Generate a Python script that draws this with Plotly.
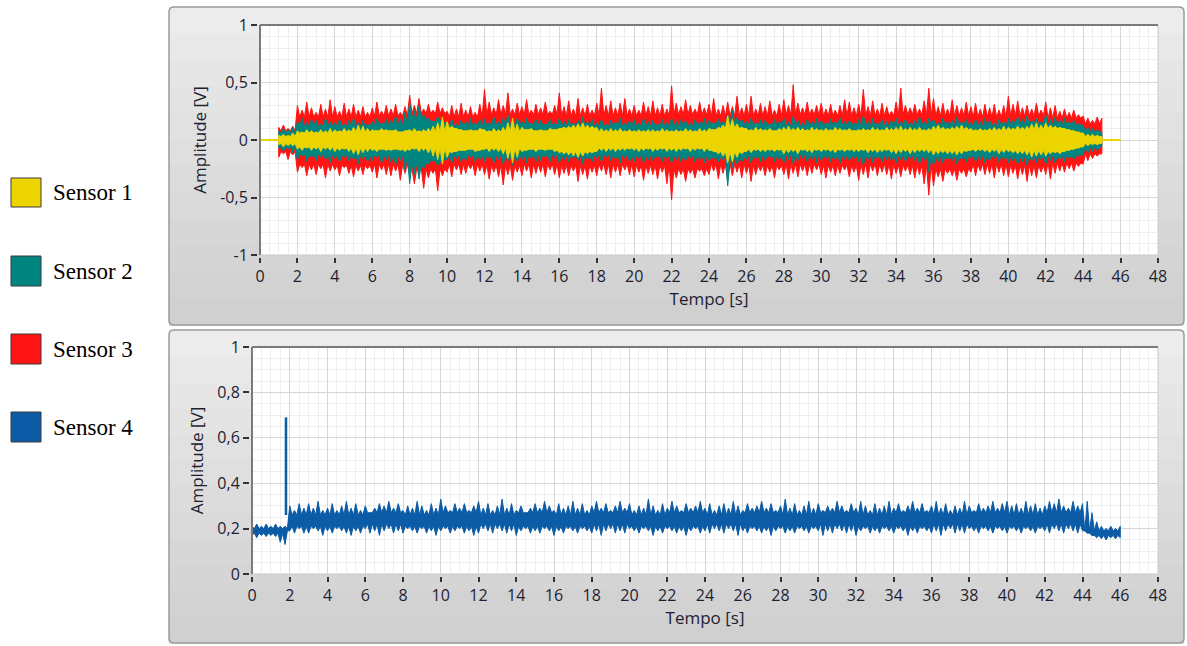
import plotly.graph_objects as go

# ---------------- data ----------------
# peak envelope samples every 0.25 s; top chart from t = 1.0 s to 45.0 s
T_START_TOP = 1.0
T_STEP = 0.25

S3_HI = [0.11, 0.13, 0.10, 0.12, 0.30, 0.26, 0.33, 0.28, 0.24, 0.31, 0.27, 0.35,
         0.29, 0.25, 0.32, 0.27, 0.31, 0.26, 0.29, 0.24, 0.28, 0.33, 0.25, 0.30,
         0.27, 0.31, 0.24, 0.29, 0.39, 0.30, 0.36, 0.27, 0.31, 0.26, 0.33, 0.28,
         0.25, 0.30, 0.27, 0.32, 0.26, 0.29, 0.24, 0.31, 0.44, 0.33, 0.28, 0.35,
         0.30, 0.41, 0.27, 0.32, 0.29, 0.35, 0.26, 0.31, 0.28, 0.33, 0.25, 0.30,
         0.41, 0.29, 0.34, 0.27, 0.36, 0.28, 0.31, 0.26, 0.32, 0.45, 0.30, 0.34,
         0.28, 0.32, 0.36, 0.27, 0.30, 0.26, 0.33, 0.29, 0.34, 0.28, 0.31, 0.27,
         0.47, 0.32, 0.29, 0.35, 0.30, 0.27, 0.33, 0.28, 0.31, 0.36, 0.27, 0.30,
         0.33, 0.29, 0.38, 0.28, 0.31, 0.38, 0.27, 0.32, 0.29, 0.34, 0.26, 0.31,
         0.35, 0.30, 0.48, 0.32, 0.28, 0.33, 0.27, 0.30, 0.32, 0.27, 0.31, 0.26,
         0.30, 0.35, 0.33, 0.28, 0.31, 0.44, 0.29, 0.34, 0.27, 0.32, 0.29, 0.25,
         0.33, 0.45, 0.30, 0.28, 0.31, 0.27, 0.34, 0.45, 0.36, 0.29, 0.32, 0.27,
         0.35, 0.30, 0.28, 0.33, 0.29, 0.32, 0.27, 0.31, 0.28, 0.31, 0.26, 0.30,
         0.38, 0.31, 0.34, 0.28, 0.30, 0.27, 0.32, 0.26, 0.33, 0.28, 0.30, 0.25,
         0.27, 0.24, 0.26, 0.22, 0.21, 0.19, 0.17, 0.20, 0.19]
S3_LO = [-0.15, -0.12, -0.17, -0.13, -0.28, -0.24, -0.31, -0.26, -0.30, -0.25, -0.33, -0.27,
         -0.26, -0.31, -0.24, -0.29, -0.32, -0.27, -0.30, -0.25, -0.28, -0.33, -0.26, -0.30,
         -0.31, -0.27, -0.35, -0.29, -0.30, -0.38, -0.28, -0.42, -0.33, -0.29, -0.44, -0.31,
         -0.28, -0.32, -0.26, -0.30, -0.29, -0.25, -0.31, -0.27, -0.30, -0.34, -0.28, -0.32,
         -0.39, -0.30, -0.35, -0.28, -0.31, -0.27, -0.33, -0.29, -0.28, -0.32, -0.26, -0.30,
         -0.33, -0.29, -0.31, -0.27, -0.36, -0.30, -0.34, -0.28, -0.31, -0.27, -0.30, -0.33,
         -0.28, -0.31, -0.26, -0.30, -0.32, -0.28, -0.35, -0.29, -0.30, -0.34, -0.28, -0.38,
         -0.52, -0.33, -0.30, -0.36, -0.29, -0.33, -0.27, -0.31, -0.30, -0.27, -0.34, -0.29,
         -0.35, -0.31, -0.28, -0.33, -0.29, -0.36, -0.30, -0.27, -0.31, -0.28, -0.33, -0.26,
         -0.30, -0.34, -0.29, -0.32, -0.27, -0.31, -0.29, -0.26, -0.30, -0.33, -0.28, -0.31,
         -0.29, -0.26, -0.32, -0.28, -0.35, -0.30, -0.33, -0.27, -0.31, -0.28, -0.30, -0.34,
         -0.29, -0.32, -0.27, -0.30, -0.33, -0.30, -0.38, -0.48, -0.40, -0.32, -0.36, -0.29,
         -0.31, -0.35, -0.29, -0.32, -0.28, -0.31, -0.27, -0.30, -0.29, -0.33, -0.28, -0.31,
         -0.32, -0.29, -0.34, -0.30, -0.36, -0.31, -0.33, -0.28, -0.30, -0.34, -0.29, -0.27,
         -0.28, -0.25, -0.27, -0.23, -0.21, -0.18, -0.16, -0.14, -0.12]

S2_HI = [0.08, 0.10, 0.09, 0.11, 0.16, 0.19, 0.15, 0.18, 0.17, 0.14, 0.19, 0.16,
         0.15, 0.18, 0.14, 0.17, 0.19, 0.15, 0.17, 0.14, 0.16, 0.19, 0.15, 0.18,
         0.17, 0.21, 0.18, 0.24, 0.33, 0.26, 0.30, 0.22, 0.19, 0.16, 0.20, 0.17,
         0.15, 0.18, 0.14, 0.17, 0.16, 0.19, 0.15, 0.18, 0.18, 0.15, 0.20, 0.16,
         0.19, 0.22, 0.17, 0.19, 0.16, 0.19, 0.15, 0.18, 0.17, 0.14, 0.18, 0.15,
         0.19, 0.16, 0.18, 0.15, 0.17, 0.20, 0.16, 0.18, 0.15, 0.18, 0.14, 0.17,
         0.16, 0.19, 0.15, 0.17, 0.18, 0.15, 0.19, 0.16, 0.17, 0.14, 0.18, 0.15,
         0.19, 0.16, 0.18, 0.17, 0.15, 0.18, 0.16, 0.19, 0.17, 0.15, 0.18, 0.16,
         0.22, 0.26, 0.20, 0.18, 0.16, 0.19, 0.15, 0.18, 0.17, 0.14, 0.18, 0.16,
         0.19, 0.16, 0.21, 0.17, 0.15, 0.18, 0.16, 0.19, 0.17, 0.15, 0.18, 0.16,
         0.19, 0.16, 0.17, 0.15, 0.18, 0.21, 0.16, 0.19, 0.15, 0.18, 0.16, 0.17,
         0.19, 0.16, 0.18, 0.15, 0.17, 0.20, 0.16, 0.19, 0.18, 0.15, 0.19, 0.16,
         0.17, 0.20, 0.16, 0.18, 0.15, 0.18, 0.16, 0.19, 0.17, 0.15, 0.18, 0.16,
         0.19, 0.17, 0.20, 0.18, 0.21, 0.17, 0.19, 0.16, 0.22, 0.18, 0.20, 0.17,
         0.19, 0.16, 0.17, 0.14, 0.13, 0.11, 0.10, 0.09, 0.07]
S2_LO = [-0.07, -0.10, -0.08, -0.11, -0.17, -0.14, -0.19, -0.15, -0.18, -0.15, -0.17, -0.20,
         -0.16, -0.19, -0.15, -0.18, -0.17, -0.21, -0.16, -0.19, -0.18, -0.15, -0.20, -0.17,
         -0.19, -0.22, -0.18, -0.26, -0.38, -0.30, -0.34, -0.25, -0.21, -0.18, -0.22, -0.19,
         -0.17, -0.20, -0.16, -0.19, -0.18, -0.15, -0.19, -0.17, -0.19, -0.16, -0.20, -0.17,
         -0.21, -0.18, -0.22, -0.19, -0.17, -0.20, -0.16, -0.19, -0.18, -0.15, -0.19, -0.16,
         -0.20, -0.17, -0.19, -0.16, -0.18, -0.21, -0.17, -0.19, -0.16, -0.19, -0.15, -0.18,
         -0.17, -0.20, -0.16, -0.19, -0.19, -0.16, -0.20, -0.17, -0.18, -0.15, -0.19, -0.16,
         -0.20, -0.17, -0.19, -0.18, -0.16, -0.19, -0.17, -0.20, -0.18, -0.16, -0.19, -0.17,
         -0.40, -0.24, -0.21, -0.19, -0.17, -0.20, -0.16, -0.19, -0.18, -0.15, -0.19, -0.17,
         -0.20, -0.17, -0.21, -0.18, -0.16, -0.19, -0.17, -0.20, -0.18, -0.16, -0.19, -0.17,
         -0.20, -0.17, -0.18, -0.16, -0.19, -0.22, -0.17, -0.20, -0.16, -0.19, -0.17, -0.18,
         -0.20, -0.17, -0.19, -0.16, -0.18, -0.21, -0.17, -0.28, -0.22, -0.19, -0.20, -0.17,
         -0.18, -0.21, -0.17, -0.19, -0.16, -0.19, -0.17, -0.20, -0.18, -0.16, -0.19, -0.17,
         -0.20, -0.18, -0.21, -0.19, -0.22, -0.18, -0.20, -0.17, -0.21, -0.18, -0.20, -0.17,
         -0.19, -0.16, -0.17, -0.14, -0.13, -0.11, -0.10, -0.09, -0.06]

S1_HI = [0.04, 0.05, 0.04, 0.06, 0.08, 0.07, 0.09, 0.08, 0.07, 0.09, 0.08, 0.10,
         0.09, 0.08, 0.10, 0.09, 0.11, 0.13, 0.12, 0.10, 0.09, 0.08, 0.10, 0.09,
         0.08, 0.09, 0.07, 0.08, 0.09, 0.10, 0.08, 0.09, 0.10, 0.12, 0.15, 0.20,
         0.16, 0.12, 0.10, 0.09, 0.08, 0.09, 0.08, 0.10, 0.09, 0.08, 0.10, 0.09,
         0.11, 0.15, 0.19, 0.14, 0.11, 0.09, 0.10, 0.08, 0.09, 0.08, 0.10, 0.09,
         0.10, 0.11, 0.12, 0.13, 0.14, 0.15, 0.13, 0.12, 0.11, 0.10, 0.09, 0.10,
         0.09, 0.10, 0.08, 0.09, 0.08, 0.09, 0.08, 0.09, 0.09, 0.08, 0.10, 0.09,
         0.08, 0.09, 0.08, 0.10, 0.09, 0.08, 0.10, 0.09, 0.10, 0.09, 0.11, 0.13,
         0.21, 0.18, 0.14, 0.11, 0.10, 0.09, 0.11, 0.10, 0.09, 0.10, 0.08, 0.10,
         0.11, 0.12, 0.10, 0.11, 0.10, 0.09, 0.11, 0.10, 0.09, 0.10, 0.09, 0.11,
         0.10, 0.09, 0.10, 0.08, 0.09, 0.10, 0.09, 0.11, 0.10, 0.09, 0.11, 0.10,
         0.11, 0.12, 0.10, 0.11, 0.10, 0.11, 0.09, 0.10, 0.12, 0.13, 0.11, 0.10,
         0.11, 0.12, 0.13, 0.11, 0.10, 0.09, 0.10, 0.09, 0.10, 0.11, 0.10, 0.12,
         0.11, 0.10, 0.12, 0.11, 0.12, 0.14, 0.15, 0.13, 0.15, 0.13, 0.12, 0.11,
         0.10, 0.09, 0.08, 0.07, 0.06, 0.05, 0.05, 0.04, 0.03]
S1_LO = [-0.04, -0.06, -0.05, -0.05, -0.08, -0.09, -0.07, -0.09, -0.08, -0.10, -0.08, -0.09,
         -0.10, -0.09, -0.08, -0.10, -0.12, -0.13, -0.11, -0.10, -0.09, -0.10, -0.08, -0.09,
         -0.09, -0.08, -0.09, -0.10, -0.09, -0.08, -0.10, -0.09, -0.11, -0.14, -0.17, -0.21,
         -0.15, -0.11, -0.10, -0.09, -0.09, -0.08, -0.10, -0.09, -0.08, -0.10, -0.09, -0.10,
         -0.12, -0.16, -0.20, -0.15, -0.10, -0.09, -0.08, -0.10, -0.08, -0.09, -0.08, -0.10,
         -0.11, -0.12, -0.13, -0.14, -0.15, -0.14, -0.12, -0.11, -0.10, -0.09, -0.10, -0.09,
         -0.10, -0.09, -0.09, -0.08, -0.09, -0.10, -0.09, -0.08, -0.10, -0.09, -0.08, -0.10,
         -0.09, -0.10, -0.09, -0.08, -0.10, -0.09, -0.08, -0.10, -0.09, -0.10, -0.12, -0.14,
         -0.20, -0.19, -0.15, -0.12, -0.10, -0.11, -0.09, -0.10, -0.10, -0.09, -0.10, -0.09,
         -0.12, -0.11, -0.10, -0.12, -0.09, -0.10, -0.11, -0.09, -0.10, -0.09, -0.10, -0.11,
         -0.09, -0.10, -0.09, -0.10, -0.10, -0.09, -0.11, -0.10, -0.11, -0.10, -0.09, -0.11,
         -0.12, -0.11, -0.10, -0.12, -0.11, -0.10, -0.10, -0.11, -0.13, -0.12, -0.11, -0.12,
         -0.12, -0.13, -0.12, -0.10, -0.09, -0.10, -0.09, -0.10, -0.11, -0.10, -0.12, -0.11,
         -0.10, -0.11, -0.12, -0.12, -0.13, -0.15, -0.14, -0.13, -0.14, -0.12, -0.11, -0.12,
         -0.10, -0.09, -0.08, -0.07, -0.06, -0.05, -0.04, -0.04, -0.03]

# solid "body" level between the peaks, one value per 2 s (t = 0-2, 2-4, ..., 44-46)
BODY_STEP = 2.0
S3_BODY_HI = [0.08, 0.20, 0.20, 0.21, 0.23, 0.20, 0.22, 0.22, 0.21, 0.21, 0.21, 0.22,
              0.21, 0.21, 0.22, 0.21, 0.21, 0.22, 0.21, 0.20, 0.21, 0.19, 0.14]
S3_BODY_LO = [-0.10, -0.21, -0.22, -0.21, -0.25, -0.21, -0.22, -0.21, -0.22, -0.21, -0.22, -0.25,
              -0.21, -0.22, -0.21, -0.22, -0.21, -0.22, -0.25, -0.21, -0.22, -0.20, -0.12]
S2_BODY_HI = [0.06, 0.12, 0.12, 0.13, 0.18, 0.12, 0.13, 0.13, 0.12, 0.12, 0.12, 0.12,
              0.14, 0.13, 0.12, 0.13, 0.12, 0.13, 0.13, 0.12, 0.14, 0.13, 0.07]
S2_BODY_LO = [-0.06, -0.12, -0.13, -0.13, -0.20, -0.13, -0.13, -0.12, -0.13, -0.12, -0.13, -0.13,
              -0.15, -0.13, -0.12, -0.13, -0.13, -0.13, -0.14, -0.13, -0.14, -0.13, -0.06]
S1_BODY_HI = [0.03, 0.06, 0.07, 0.08, 0.07, 0.10, 0.07, 0.09, 0.10, 0.07, 0.07, 0.07,
              0.10, 0.08, 0.08, 0.08, 0.08, 0.08, 0.09, 0.08, 0.09, 0.10, 0.03]
S1_BODY_LO = [-0.03, -0.06, -0.07, -0.08, -0.07, -0.10, -0.07, -0.09, -0.10, -0.07, -0.07, -0.07,
              -0.10, -0.08, -0.08, -0.08, -0.08, -0.08, -0.09, -0.08, -0.09, -0.10, -0.03]

# quiet (flat) part of Sensor 1 before / after the excitation
S1_QUIET_T = [0.0, 1.0, None, 45.0, 46.0]
S1_QUIET_V = [0.0, 0.0, None, 0.0, 0.0]

# bottom chart, peak envelope every 0.25 s from t = 0 to 46 s
T_START_BOTTOM = 0.0
S4_HI = [0.21, 0.22, 0.21, 0.22, 0.21, 0.22, 0.21, 0.21, 0.30, 0.28, 0.31, 0.29,
         0.31, 0.29, 0.32, 0.28, 0.29, 0.31, 0.28, 0.30, 0.32, 0.29, 0.31, 0.28,
         0.30, 0.27, 0.29, 0.31, 0.30, 0.32, 0.29, 0.31, 0.28, 0.30, 0.29, 0.32,
         0.30, 0.28, 0.31, 0.29, 0.33, 0.30, 0.28, 0.31, 0.29, 0.31, 0.28, 0.30,
         0.32, 0.29, 0.31, 0.28, 0.30, 0.33, 0.29, 0.31, 0.28, 0.30, 0.27, 0.29,
         0.31, 0.29, 0.32, 0.30, 0.28, 0.31, 0.29, 0.30, 0.32, 0.29, 0.31, 0.28,
         0.30, 0.32, 0.29, 0.31, 0.28, 0.30, 0.32, 0.29, 0.31, 0.28, 0.30, 0.29,
         0.33, 0.30, 0.28, 0.31, 0.29, 0.32, 0.30, 0.28, 0.31, 0.29, 0.30, 0.32,
         0.29, 0.31, 0.28, 0.30, 0.31, 0.29, 0.32, 0.30, 0.28, 0.31, 0.29, 0.30,
         0.32, 0.29, 0.31, 0.28, 0.30, 0.33, 0.29, 0.31, 0.28, 0.30, 0.32, 0.29,
         0.31, 0.28, 0.30, 0.29, 0.32, 0.30, 0.28, 0.31, 0.29, 0.32, 0.30, 0.28,
         0.31, 0.29, 0.30, 0.32, 0.29, 0.31, 0.28, 0.30, 0.32, 0.29, 0.31, 0.28,
         0.30, 0.32, 0.29, 0.31, 0.28, 0.30, 0.29, 0.32, 0.30, 0.28, 0.31, 0.29,
         0.30, 0.32, 0.29, 0.31, 0.32, 0.30, 0.31, 0.29, 0.32, 0.30, 0.31, 0.29,
         0.30, 0.32, 0.31, 0.33, 0.30, 0.29, 0.32, 0.30, 0.31, 0.32, 0.27, 0.23,
         0.21, 0.20, 0.21, 0.20, 0.21]
S4_LO = [0.17, 0.16, 0.17, 0.165, 0.17, 0.165, 0.14, 0.13, 0.19, 0.18, 0.20, 0.18,
         0.18, 0.20, 0.19, 0.17, 0.19, 0.18, 0.20, 0.19, 0.18, 0.17, 0.19, 0.18,
         0.20, 0.18, 0.19, 0.17, 0.19, 0.20, 0.18, 0.19, 0.18, 0.20, 0.19, 0.18,
         0.20, 0.18, 0.19, 0.17, 0.19, 0.20, 0.18, 0.19, 0.20, 0.18, 0.19, 0.17,
         0.18, 0.20, 0.19, 0.18, 0.20, 0.19, 0.18, 0.19, 0.17, 0.19, 0.20, 0.18,
         0.19, 0.18, 0.20, 0.19, 0.17, 0.19, 0.18, 0.20, 0.19, 0.18, 0.20, 0.19,
         0.18, 0.19, 0.17, 0.19, 0.20, 0.18, 0.19, 0.18, 0.20, 0.19, 0.18, 0.20,
         0.19, 0.17, 0.19, 0.18, 0.20, 0.19, 0.18, 0.19, 0.17, 0.19, 0.20, 0.18,
         0.19, 0.18, 0.20, 0.19, 0.18, 0.20, 0.19, 0.17, 0.19, 0.18, 0.20, 0.19,
         0.18, 0.19, 0.17, 0.19, 0.20, 0.18, 0.19, 0.18, 0.20, 0.19, 0.18, 0.20,
         0.19, 0.17, 0.19, 0.18, 0.20, 0.19, 0.18, 0.19, 0.17, 0.19, 0.20, 0.18,
         0.19, 0.18, 0.20, 0.19, 0.18, 0.20, 0.19, 0.17, 0.19, 0.18, 0.20, 0.19,
         0.18, 0.19, 0.17, 0.19, 0.20, 0.18, 0.19, 0.18, 0.20, 0.19, 0.18, 0.20,
         0.19, 0.18, 0.20, 0.19, 0.18, 0.20, 0.19, 0.18, 0.20, 0.19, 0.18, 0.20,
         0.19, 0.18, 0.20, 0.19, 0.18, 0.20, 0.19, 0.18, 0.19, 0.18, 0.17, 0.16,
         0.155, 0.15, 0.16, 0.155, 0.16]
S4_BODY_HI = [0.20, 0.26, 0.26, 0.27, 0.26, 0.27, 0.26, 0.27, 0.26, 0.27, 0.26, 0.27,
              0.26, 0.27, 0.26, 0.27, 0.26, 0.27, 0.26, 0.27, 0.26, 0.27, 0.19]
S4_BODY_LO = [0.18, 0.21, 0.21, 0.22, 0.21, 0.21, 0.22, 0.21, 0.21, 0.22, 0.21, 0.21,
              0.22, 0.21, 0.21, 0.22, 0.21, 0.21, 0.22, 0.21, 0.21, 0.22, 0.17]
# impact spike of sensor 4
S4_SPIKE_T = [1.8, 1.8]
S4_SPIKE_V = [0.26, 0.69]

SERIES_NAMES = ["Sensor 1", "Sensor 2", "Sensor 3", "Sensor 4"]
SERIES_COLORS = ["#ecd400", "#008580", "#ff1414", "#0b5ba6"]

X_TICKS = list(range(0, 49, 2))
Y1_TICKVALS = [-1, -0.5, 0, 0.5, 1]
Y1_TICKTEXT = ["-1", "-0,5", "0", "0,5", "1"]
Y2_TICKVALS = [0, 0.2, 0.4, 0.6, 0.8, 1]
Y2_TICKTEXT = ["0", "0,2", "0,4", "0,6", "0,8", "1"]

# ---------------- helpers ----------------
W, H = 1187, 646


def fx(x):
    return x / W


def fy(y):
    return 1 - y / H


def body_at(body, t):
    return body[min(int(t // BODY_STEP), len(body) - 1)]


def band_xy(t0, step, hi, lo, body_hi, body_lo):
    """Outline: peaks at every sample, the solid body level between peaks."""
    n = len(hi)
    ts = [t0 + i * step for i in range(n)]
    up_x, up_y, dn_x, dn_y = [], [], [], []
    for i in range(n):
        up_x.append(ts[i]); up_y.append(hi[i])
        dn_x.append(ts[i]); dn_y.append(lo[i])
        if i < n - 1:
            tm = ts[i] + step / 2
            up_x.append(tm)
            up_y.append(min(body_at(body_hi, tm), hi[i], hi[i + 1]))
            dn_x.append(tm)
            dn_y.append(max(body_at(body_lo, tm), lo[i], lo[i + 1]))
    xs = up_x + dn_x[::-1] + [up_x[0]]
    ys = up_y + dn_y[::-1] + [up_y[0]]
    return xs, ys


fig = go.Figure()


def add_band(hi, lo, bhi, blo, t0, col, name, xa, ya):
    xs, ys = band_xy(t0, T_STEP, hi, lo, bhi, blo)
    fig.add_trace(go.Scatter(x=xs, y=ys, mode="lines", name=name, fill="toself",
                             fillcolor=col, line=dict(color=col, width=1),
                             xaxis=xa, yaxis=ya, showlegend=False, hoverinfo="skip"))


# top chart (red underneath, then teal, yellow on top)
add_band(S3_HI, S3_LO, S3_BODY_HI, S3_BODY_LO, T_START_TOP, SERIES_COLORS[2], "Sensor 3", "x", "y")
add_band(S2_HI, S2_LO, S2_BODY_HI, S2_BODY_LO, T_START_TOP, SERIES_COLORS[1], "Sensor 2", "x", "y")
fig.add_trace(go.Scatter(x=S1_QUIET_T, y=S1_QUIET_V, mode="lines", name="Sensor 1",
                         line=dict(color=SERIES_COLORS[0], width=2), xaxis="x", yaxis="y",
                         showlegend=False, hoverinfo="skip"))
add_band(S1_HI, S1_LO, S1_BODY_HI, S1_BODY_LO, T_START_TOP, SERIES_COLORS[0], "Sensor 1", "x", "y")

# bottom chart
add_band(S4_HI, S4_LO, S4_BODY_HI, S4_BODY_LO, T_START_BOTTOM, SERIES_COLORS[3], "Sensor 4", "x2", "y2")
fig.add_trace(go.Scatter(x=S4_SPIKE_T, y=S4_SPIKE_V, mode="lines", name="Sensor 4",
                         line=dict(color=SERIES_COLORS[3], width=2.5), xaxis="x2", yaxis="y2",
                         showlegend=False, hoverinfo="skip"))

# ---------------- panels ----------------
shapes = []


def panel(x0, y0, x1, y1):
    n = 12
    c_top = (236, 236, 236)
    c_bot = (208, 208, 208)
    for i in range(n):
        a = i / (n - 1)
        c = tuple(int(c_top[k] + (c_bot[k] - c_top[k]) * a) for k in range(3))
        ya = y0 + (y1 - y0) * i / n
        yb = y0 + (y1 - y0) * (i + 1) / n + 0.5
        shapes.append(dict(type="rect", xref="paper", yref="paper", layer="below",
                           x0=fx(x0), x1=fx(x1), y0=fy(ya), y1=fy(yb),
                           fillcolor="rgb(%d,%d,%d)" % c, line=dict(width=0)))
    r = 5
    p = (f"M {fx(x0 + r)},{fy(y0)} L {fx(x1 - r)},{fy(y0)} "
         f"Q {fx(x1)},{fy(y0)} {fx(x1)},{fy(y0 + r)} L {fx(x1)},{fy(y1 - r)} "
         f"Q {fx(x1)},{fy(y1)} {fx(x1 - r)},{fy(y1)} L {fx(x0 + r)},{fy(y1)} "
         f"Q {fx(x0)},{fy(y1)} {fx(x0)},{fy(y1 - r)} L {fx(x0)},{fy(y0 + r)} "
         f"Q {fx(x0)},{fy(y0)} {fx(x0 + r)},{fy(y0)} Z")
    shapes.append(dict(type="path", path=p, xref="paper", yref="paper", layer="below",
                       line=dict(color="#9a9a9a", width=1.5)))


def plotarea(x0, y0, x1, y1):
    shapes.append(dict(type="rect", xref="paper", yref="paper", layer="below",
                       x0=fx(x0), x1=fx(x1), y0=fy(y0), y1=fy(y1),
                       fillcolor="white", line=dict(color="#c9c9c9", width=1)))


def plotborder(x0, y0, x1, y1):
    shapes.append(dict(type="line", xref="paper", yref="paper", layer="above",
                       x0=fx(x0), x1=fx(x1), y0=fy(y0), y1=fy(y0),
                       line=dict(color="#7a7a7a", width=2)))
    shapes.append(dict(type="line", xref="paper", yref="paper", layer="above",
                       x0=fx(x0), x1=fx(x0), y0=fy(y0), y1=fy(y1),
                       line=dict(color="#7a7a7a", width=2)))


panel(169, 7, 1184, 325)
panel(169, 330, 1184, 643)
plotarea(260, 25, 1158, 255)
plotarea(252, 347, 1158, 574)
plotborder(260, 25, 1158, 255)
plotborder(252, 347, 1158, 574)

# legend squares + labels
annotations = []
legend_rows = [(178, 207), (256, 286), (334, 364), (412, 442)]
for (ya, yb), name, col in zip(legend_rows, SERIES_NAMES, SERIES_COLORS):
    shapes.append(dict(type="rect", xref="paper", yref="paper",
                       x0=fx(11), x1=fx(41), y0=fy(ya), y1=fy(yb),
                       fillcolor=col, line=dict(color="#3a3a3a", width=1)))
    annotations.append(dict(text=name, xref="paper", yref="paper",
                            x=fx(51), y=fy((ya + yb) / 2), xanchor="left", yanchor="middle",
                            showarrow=False,
                            font=dict(family="Liberation Serif", size=23, color="black")))

TICK_FONT = dict(family="Open Sans", size=16, color="#1e1e32")
TITLE_FONT = dict(family="Open Sans", size=17, color="#1e1e32")
GRID = "#d6d6d6"
MINOR_GRID = "#eeeeee"


def xaxis_cfg(x0, x1, ypos):
    return dict(domain=[fx(x0), fx(x1)], range=[0, 48], tickvals=X_TICKS,
                ticks="outside", ticklen=5, tickwidth=1.5, tickcolor="#333333",
                showline=False, zeroline=False, showgrid=True, gridcolor=GRID, gridwidth=1,
                minor=dict(dtick=0.5, showgrid=True, gridcolor=MINOR_GRID, gridwidth=1, ticks=""),
                anchor="free", position=fy(ypos), tickfont=TICK_FONT, automargin=False,
                title=dict(text="Tempo [s]", font=TITLE_FONT, standoff=5), fixedrange=True)


def yaxis_cfg(y0, y1, xpos, rng, tv, tt, minor_dtick):
    return dict(domain=[fy(y1), fy(y0)], range=rng, tickvals=tv, ticktext=tt,
                ticks="outside", ticklen=6, tickwidth=1.5, tickcolor="#333333",
                showline=False, zeroline=False, showgrid=True, gridcolor=GRID, gridwidth=1,
                minor=dict(dtick=minor_dtick, showgrid=True, gridcolor=MINOR_GRID, gridwidth=1, ticks=""),
                anchor="free", position=fx(xpos), tickfont=TICK_FONT, automargin=False,
                title=dict(text="Amplitude [V]", font=TITLE_FONT, standoff=8), fixedrange=True)


fig.update_layout(
    width=W, height=H,
    margin=dict(l=0, r=0, t=0, b=0, autoexpand=False),
    paper_bgcolor="white",
    plot_bgcolor="rgba(0,0,0,0)",
    showlegend=False,
    xaxis=xaxis_cfg(260, 1158, 257),
    yaxis=yaxis_cfg(25, 255, 257, [-1, 1], Y1_TICKVALS, Y1_TICKTEXT, 0.1),
    xaxis2=xaxis_cfg(252, 1158, 576),
    yaxis2=yaxis_cfg(347, 574, 249, [0, 1], Y2_TICKVALS, Y2_TICKTEXT, 0.05),
    shapes=shapes,
    annotations=annotations,
)

fig.write_html("out.html")
